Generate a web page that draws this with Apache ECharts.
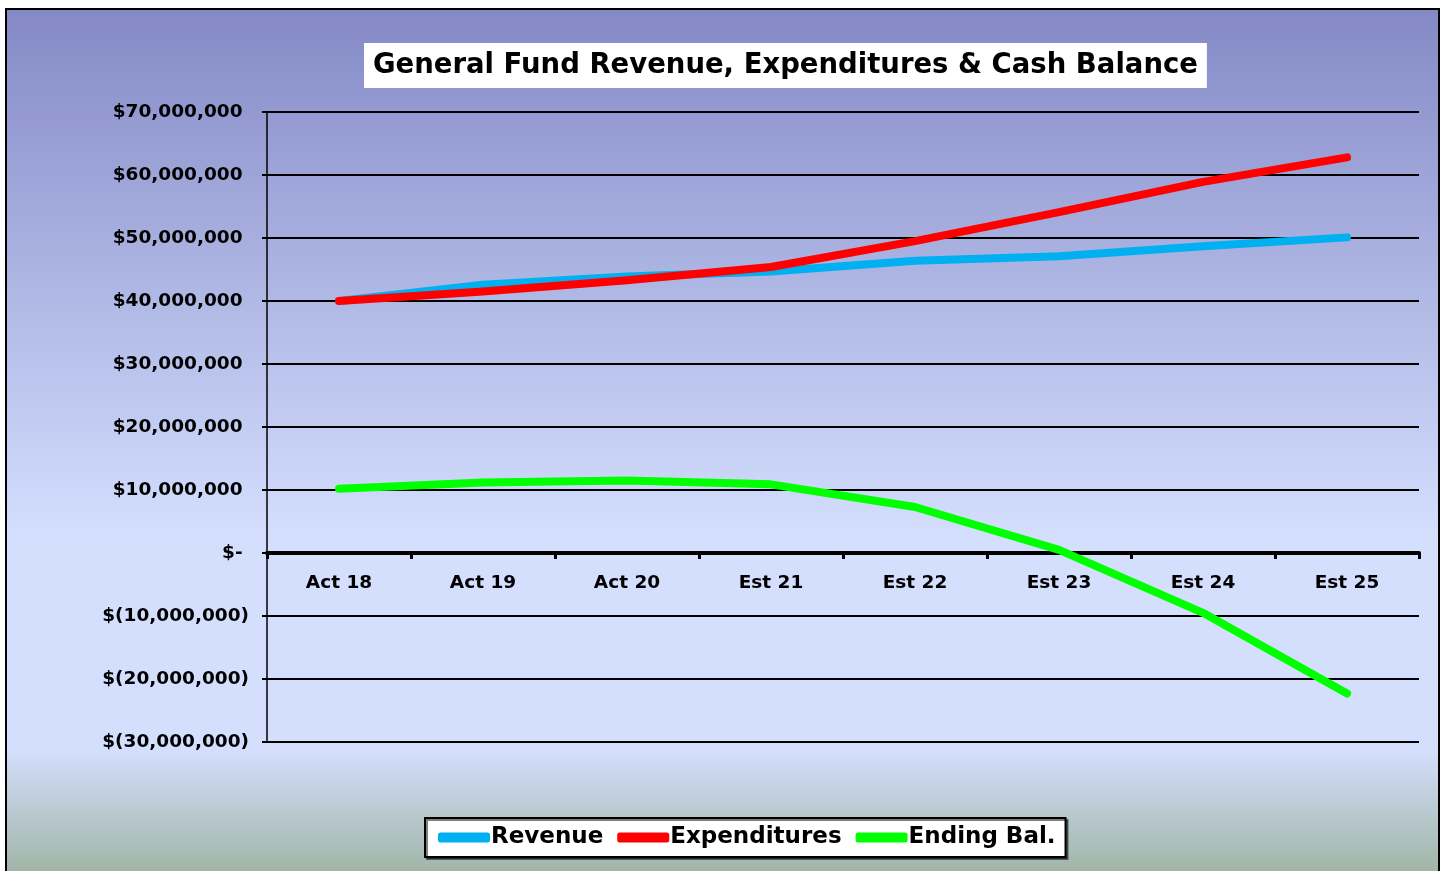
<!DOCTYPE html>
<html>
<head>
<meta charset="utf-8">
<script src="https://cdn.jsdelivr.net/npm/echarts@6/dist/echarts.min.js"></script>
<style>
  html, body { margin: 0; padding: 0; background: #fff; }
  #main { width: 1445px; height: 871px; }
</style>
</head>
<body>
<div id="main"></div>
<script>
// chart data
var years = ['Act 18', 'Act 19', 'Act 20', 'Est 21', 'Est 22', 'Est 23', 'Est 24', 'Est 25'];
var revenue = [40000000, 42600000, 43900000, 44700000, 46400000, 47100000, 48700000, 50100000];
var expenditures = [40000000, 41500000, 43300000, 45400000, 49500000, 54100000, 58900000, 62800000];
var endingBal = [10200000, 11200000, 11500000, 10900000, 7300000, 500000, -9500000, -22300000];

var chart = echarts.init(document.getElementById('main'));
var FONT = 'DejaVu Sans';

function money(v) {
    if (v === 0) return '$- ';
    var s = Math.abs(v).toString().replace(/\B(?=(\d{3})+(?!\d))/g, ',');
    return v < 0 ? '$(' + s + ')' : '$' + s + ' ';
}

function lineSeries(name, data, color) {
    return {
        name: name,
        type: 'line',
        data: data,
        symbol: 'none',
        color: color,
        lineStyle: { color: color, width: 8, cap: 'round', join: 'round' },
        animation: false
    };
}

var option = {
    backgroundColor: '#fff',
    animation: false,
    graphic: [{
        type: 'rect',
        z: -10,
        shape: { x: 6, y: 9, width: 1433, height: 880 },
        style: {
            fill: {
                type: 'linear', x: 0, y: 0, x2: 0, y2: 1,
                colorStops: [
                    { offset: 0, color: '#8489c6' },
                    { offset: 0.6, color: '#d4dffe' },
                    { offset: 0.84, color: '#d4dffe' },
                    { offset: 0.99, color: '#9db2a0' }
                ]
            },
            stroke: '#000',
            lineWidth: 2
        }
    }],
    title: {
        text: 'General Fund Revenue, Expenditures & Cash Balance',
        left: 364,
        top: 43,
        backgroundColor: '#fff',
        padding: [7, 9, 7, 9],
        textStyle: { fontFamily: FONT, fontWeight: 'bold', fontSize: 27.5, lineHeight: 31, color: '#000' }
    },
    legend: {
        left: 425,
        top: 818,
        backgroundColor: '#fff',
        borderColor: '#000',
        borderWidth: 2,
        shadowColor: 'rgba(0,0,0,0.5)',
        shadowOffsetX: 2,
        shadowOffsetY: 2,
        padding: [8, 10, 8, 13],
        itemGap: 14,
        itemWidth: 52,
        itemHeight: 10,
        icon: 'roundRect',
        textStyle: { fontFamily: FONT, fontWeight: 'bold', fontSize: 23, color: '#000', padding: [0, 0, 0, -4] },
        data: ['Revenue', 'Expenditures', 'Ending Bal.']
    },
    grid: { left: 267, right: 26, top: 112, bottom: 129 },
    xAxis: {
        type: 'category',
        data: years,
        boundaryGap: true,
        position: 'bottom',
        offset: -189,
        axisLine: { onZero: false, lineStyle: { color: '#000', width: 4 } },
        axisTick: { show: true, length: 6, lineStyle: { color: '#000', width: 3 } },
        axisLabel: { margin: 21, fontFamily: FONT, fontWeight: 'bold', fontSize: 18.5, color: '#000' },
        splitLine: { show: false }
    },
    yAxis: {
        type: 'value',
        min: -30000000,
        max: 70000000,
        interval: 10000000,
        axisLine: { show: true, lineStyle: { color: '#000', width: 1.5 } },
        axisTick: { show: true, length: 5, lineStyle: { color: '#000', width: 2 } },
        splitLine: { show: true, lineStyle: { color: '#000', width: 2 } },
        axisLabel: {
            margin: 18,
            fontFamily: FONT, fontWeight: 'bold', fontSize: 18.5, color: '#000',
            padding: [3, 0, 0, 0],
            formatter: money
        }
    },
    series: [
        lineSeries('Revenue', revenue, '#00b0f0'),
        lineSeries('Expenditures', expenditures, '#ff0000'),
        lineSeries('Ending Bal.', endingBal, '#00ff00')
    ]
};

chart.setOption(option);
window.onresize = chart.resize;
</script>
</body>
</html>
